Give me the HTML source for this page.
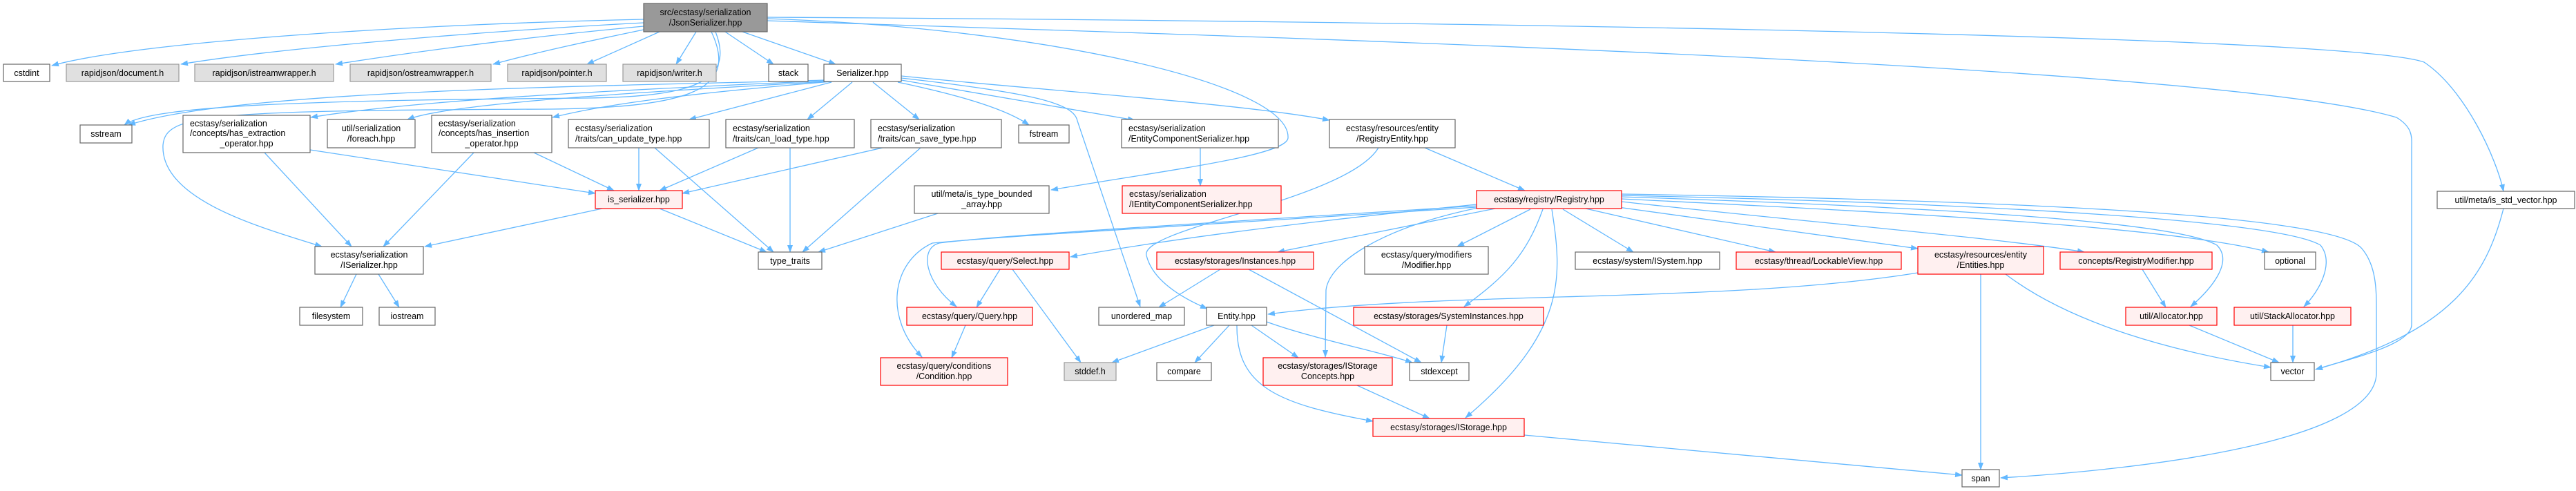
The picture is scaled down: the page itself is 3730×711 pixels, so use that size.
<!DOCTYPE html>
<html><head><meta charset="utf-8"><style>
html,body{margin:0;padding:0;background:#fff;}
svg{display:block;}
text{font-family:"Liberation Sans",sans-serif;font-size:12.5px;fill:#000;}
.e{fill:none;stroke:#63b8ff;stroke-width:1.3;marker-end:url(#a);}
.n{fill:#fff;stroke:#666;stroke-width:1.2;}
.g{fill:#e0e0e0;stroke:#999;stroke-width:1.2;}
.r{fill:#fff0f0;stroke:#ff0000;stroke-width:1.2;}
.h{fill:#999;stroke:#666;stroke-width:1.2;}
</style></head><body>
<svg width="3730" height="711" viewBox="0 0 3730 711" xmlns="http://www.w3.org/2000/svg">
<defs><marker id="a" markerUnits="userSpaceOnUse" markerWidth="11" markerHeight="8" refX="10" refY="4" orient="auto"><path d="M0,0 L11,4 L0,8 z" fill="#63b8ff"/></marker></defs>
<g>
<!-- H edges -->
<path class="e" d="M932,28 C600,35 200,60 75,95"/>
<path class="e" d="M932,33 C700,45 400,70 262,93"/>
<path class="e" d="M932,38 C750,55 600,75 486,93"/>
<path class="e" d="M932,43 C850,60 780,75 714,93"/>
<path class="e" d="M955,46 L850,93"/>
<path class="e" d="M1008,46 L979,93"/>
<path class="e" d="M1050,46 L1120,93"/>
<path class="e" d="M1075,46 L1210,93"/>
<path class="e" d="M1036,46 C1065,120 1000,140 850,142 C500,145 220,150 180,181"/>
<path class="e" d="M1030,46 C1070,130 1000,155 800,158 C300,160 240,165 236,210 C232,290 380,330 466,357"/>
<path class="e" d="M1111,27 C1500,40 1870,120 1865,200 C1862,225 1700,245 1522,275"/>
<path class="e" d="M1111,25 C2000,30 3400,50 3510,90 C3570,130 3615,230 3625,277"/>
<path class="e" d="M1111,30 C1700,50 3200,90 3470,170 C3495,185 3492,200 3492,215 L3492,470 C3492,500 3400,520 3353,535"/>
<!-- Serializer edges -->
<path class="e" d="M1193,116 C900,125 350,128 186,181"/>
<path class="e" d="M1195,117 C900,130 600,145 450,170"/>
<path class="e" d="M1198,118 C900,135 650,150 590,173"/>
<path class="e" d="M1205,118 C1000,135 880,150 800,170"/>
<path class="e" d="M1204,119 L998,173"/>
<path class="e" d="M1234,119 L1169,173"/>
<path class="e" d="M1264,119 L1331,173"/>
<path class="e" d="M1300,119 C1400,140 1460,160 1490,181"/>
<path class="e" d="M1305,116 L1643,174"/>
<path class="e" d="M1305,110 C1500,130 1800,150 1925,174"/>
<path class="e" d="M1305,113 C1500,135 1555,150 1560,175 L1651,444"/>
<!-- second tier -->
<path class="e" d="M449,217 L862,280"/>
<path class="e" d="M383,221 L509,357"/>
<path class="e" d="M773,221 L889,276"/>
<path class="e" d="M686,221 L555,357"/>
<path class="e" d="M925,214 L925,276"/>
<path class="e" d="M948,214 L1120,365"/>
<path class="e" d="M1098,214 L955,276"/>
<path class="e" d="M1144,214 L1144,365"/>
<path class="e" d="M1278,214 L988,280"/>
<path class="e" d="M1333,214 L1162,365"/>
<path class="e" d="M872,302 L615,357"/>
<path class="e" d="M955,302 L1110,365"/>
<path class="e" d="M1358,309 L1185,365"/>
<path class="e" d="M1738,214 L1738,269"/>
<path class="e" d="M2063,214 L2208,276"/>
<path class="e" d="M1996,214 C1950,290 1650,330 1660,370 C1670,410 1720,435 1748,447"/>
<path class="e" d="M516,397 L493,445"/>
<path class="e" d="M548,397 L578,445"/>
<!-- Registry edges -->
<path class="e" d="M2138,296 C1900,320 1700,345 1550,372"/>
<path class="e" d="M2138,298 C1800,320 1450,340 1360,352 C1330,360 1340,410 1385,444"/>
<path class="e" d="M2138,300 C1800,322 1450,342 1350,352 C1290,380 1280,460 1335,517"/>
<path class="e" d="M2165,302 L1850,365"/>
<path class="e" d="M2216,303 L2110,357"/>
<path class="e" d="M2140,301 C2000,330 1925,380 1920,420 L1919,517"/>
<path class="e" d="M2234,303 C2210,370 2180,400 2120,444"/>
<path class="e" d="M2247,303 C2262,400 2270,480 2122,605"/>
<path class="e" d="M2263,303 L2365,365"/>
<path class="e" d="M2296,302 L2571,365"/>
<path class="e" d="M2343,300 L2777,360"/>
<path class="e" d="M2348,292 C2600,320 2900,345 3018,365"/>
<path class="e" d="M2348,288 C2800,310 3150,330 3285,365"/>
<path class="e" d="M2348,285 C2800,300 3150,320 3210,355 C3235,380 3200,420 3172,444"/>
<path class="e" d="M2348,283 C2900,295 3300,320 3360,355 C3380,380 3360,420 3336,444"/>
<path class="e" d="M2348,281 C2900,290 3380,310 3420,360 C3441,385 3441,420 3441,450 L3441,540 C3441,640 3100,680 2897,692"/>
<!-- lower -->
<path class="e" d="M1448,390 L1414,445"/>
<path class="e" d="M1466,390 L1565,525"/>
<path class="e" d="M1398,471 L1378,518"/>
<path class="e" d="M1767,390 L1678,445"/>
<path class="e" d="M1808,390 L2058,525"/>
<path class="e" d="M1758,471 L1610,525"/>
<path class="e" d="M1780,471 L1730,525"/>
<path class="e" d="M1812,471 L1880,518"/>
<path class="e" d="M1834,466 C1900,490 2000,510 2045,525"/>
<path class="e" d="M1791,471 C1790,560 1850,585 1988,610"/>
<path class="e" d="M2095,471 L2087,525"/>
<path class="e" d="M1965,558 L2070,606"/>
<path class="e" d="M2207,630 L2841,688"/>
<path class="e" d="M2777,395 C2500,440 2100,420 1836,455"/>
<path class="e" d="M2868,397 L2868,680"/>
<path class="e" d="M2904,397 C3000,470 3150,510 3288,532"/>
<path class="e" d="M3102,390 L3136,445"/>
<path class="e" d="M3170,471 L3300,525"/>
<path class="e" d="M3320,471 L3320,525"/>
<path class="e" d="M3625,302 C3600,400 3550,480 3353,535"/>
</g>
<g>
<rect class="h" x="932" y="5" width="179" height="41"/><text x="1021.5" y="22" text-anchor="middle">src/ecstasy/serialization</text><text x="1021.5" y="37" text-anchor="middle">/JsonSerializer.hpp</text>

<rect class="n" x="5" y="93" width="67" height="25"/><text x="38.5" y="110" text-anchor="middle">cstdint</text>
<rect class="g" x="96" y="93" width="163" height="25"/><text x="177.5" y="110" text-anchor="middle">rapidjson/document.h</text>
<rect class="g" x="282" y="93" width="201" height="25"/><text x="382.5" y="110" text-anchor="middle">rapidjson/istreamwrapper.h</text>
<rect class="g" x="507" y="93" width="204" height="25"/><text x="609" y="110" text-anchor="middle">rapidjson/ostreamwrapper.h</text>
<rect class="g" x="735" y="93" width="143" height="25"/><text x="806.5" y="110" text-anchor="middle">rapidjson/pointer.h</text>
<rect class="g" x="902" y="93" width="135" height="25"/><text x="969.5" y="110" text-anchor="middle">rapidjson/writer.h</text>
<rect class="n" x="1113" y="93" width="57" height="25"/><text x="1141.5" y="110" text-anchor="middle">stack</text>
<rect class="n" x="1193" y="93" width="112" height="25"/><text x="1249" y="110" text-anchor="middle">Serializer.hpp</text>

<rect class="n" x="116" y="181" width="75" height="26"/><text x="153.5" y="198" text-anchor="middle">sstream</text>
<rect class="n" x="265" y="167" width="184" height="54"/><text x="275" y="183">ecstasy/serialization</text><text x="275" y="197">/concepts/has_extraction</text><text x="357" y="212" text-anchor="middle">_operator.hpp</text>
<rect class="n" x="474" y="173" width="127" height="41"/><text x="537.5" y="190" text-anchor="middle">util/serialization</text><text x="537.5" y="205" text-anchor="middle">/foreach.hpp</text>
<rect class="n" x="625" y="167" width="174" height="54"/><text x="635" y="183">ecstasy/serialization</text><text x="635" y="197">/concepts/has_insertion</text><text x="712" y="212" text-anchor="middle">_operator.hpp</text>
<rect class="n" x="823" y="173" width="204" height="41"/><text x="833" y="190">ecstasy/serialization</text><text x="833" y="205">/traits/can_update_type.hpp</text>
<rect class="n" x="1051" y="173" width="186" height="41"/><text x="1061" y="190">ecstasy/serialization</text><text x="1061" y="205">/traits/can_load_type.hpp</text>
<rect class="n" x="1261" y="173" width="189" height="41"/><text x="1271" y="190">ecstasy/serialization</text><text x="1271" y="205">/traits/can_save_type.hpp</text>
<rect class="n" x="1475" y="181" width="73" height="26"/><text x="1511.5" y="198" text-anchor="middle">fstream</text>
<rect class="n" x="1624" y="173" width="227" height="41"/><text x="1634" y="190">ecstasy/serialization</text><text x="1634" y="205">/EntityComponentSerializer.hpp</text>
<rect class="n" x="1925" y="173" width="182" height="41"/><text x="2016" y="190" text-anchor="middle">ecstasy/resources/entity</text><text x="2016" y="205" text-anchor="middle">/RegistryEntity.hpp</text>

<rect class="r" x="862" y="276" width="126" height="26"/><text x="925" y="293" text-anchor="middle">is_serializer.hpp</text>
<rect class="n" x="1324" y="269" width="195" height="40"/><text x="1421.5" y="285" text-anchor="middle">util/meta/is_type_bounded</text><text x="1421.5" y="300" text-anchor="middle">_array.hpp</text>
<rect class="r" x="1625" y="269" width="230" height="40"/><text x="1635" y="285">ecstasy/serialization</text><text x="1635" y="300">/IEntityComponentSerializer.hpp</text>
<rect class="r" x="2138" y="276" width="210" height="26"/><text x="2243" y="293" text-anchor="middle">ecstasy/registry/Registry.hpp</text>
<rect class="n" x="3529" y="277" width="199" height="25"/><text x="3628.5" y="294" text-anchor="middle">util/meta/is_std_vector.hpp</text>

<rect class="n" x="456" y="357" width="157" height="40"/><text x="534.5" y="373" text-anchor="middle">ecstasy/serialization</text><text x="534.5" y="388" text-anchor="middle">/ISerializer.hpp</text>
<rect class="n" x="1098" y="365" width="92" height="25"/><text x="1144" y="382" text-anchor="middle">type_traits</text>
<rect class="r" x="1363" y="365" width="185" height="25"/><text x="1455.5" y="382" text-anchor="middle">ecstasy/query/Select.hpp</text>
<rect class="r" x="1675" y="365" width="227" height="25"/><text x="1788.5" y="382" text-anchor="middle">ecstasy/storages/Instances.hpp</text>
<rect class="n" x="1976" y="357" width="179" height="40"/><text x="2065.5" y="373" text-anchor="middle">ecstasy/query/modifiers</text><text x="2065.5" y="388" text-anchor="middle">/Modifier.hpp</text>
<rect class="n" x="2281" y="365" width="209" height="25"/><text x="2385.5" y="382" text-anchor="middle">ecstasy/system/ISystem.hpp</text>
<rect class="r" x="2514" y="365" width="239" height="25"/><text x="2633.5" y="382" text-anchor="middle">ecstasy/thread/LockableView.hpp</text>
<rect class="r" x="2777" y="357" width="182" height="40"/><text x="2868" y="373" text-anchor="middle">ecstasy/resources/entity</text><text x="2868" y="388" text-anchor="middle">/Entities.hpp</text>
<rect class="r" x="2983" y="365" width="220" height="25"/><text x="3093" y="382" text-anchor="middle">concepts/RegistryModifier.hpp</text>
<rect class="n" x="3279" y="365" width="74" height="25"/><text x="3316" y="382" text-anchor="middle">optional</text>

<rect class="n" x="434" y="445" width="91" height="26"/><text x="479.5" y="462" text-anchor="middle">filesystem</text>
<rect class="n" x="549" y="445" width="81" height="26"/><text x="589.5" y="462" text-anchor="middle">iostream</text>
<rect class="r" x="1313" y="445" width="182" height="26"/><text x="1404" y="462" text-anchor="middle">ecstasy/query/Query.hpp</text>
<rect class="n" x="1591" y="445" width="124" height="26"/><text x="1653" y="462" text-anchor="middle">unordered_map</text>
<rect class="n" x="1747" y="445" width="87" height="26"/><text x="1790.5" y="462" text-anchor="middle">Entity.hpp</text>
<rect class="r" x="1960" y="445" width="275" height="26"/><text x="2097.5" y="462" text-anchor="middle">ecstasy/storages/SystemInstances.hpp</text>
<rect class="r" x="3078" y="445" width="132" height="26"/><text x="3144" y="462" text-anchor="middle">util/Allocator.hpp</text>
<rect class="r" x="3235" y="445" width="169" height="26"/><text x="3319.5" y="462" text-anchor="middle">util/StackAllocator.hpp</text>

<rect class="r" x="1275" y="518" width="184" height="40"/><text x="1367" y="534" text-anchor="middle">ecstasy/query/conditions</text><text x="1367" y="549" text-anchor="middle">/Condition.hpp</text>
<rect class="g" x="1541" y="525" width="75" height="26"/><text x="1578.5" y="542" text-anchor="middle">stddef.h</text>
<rect class="n" x="1675" y="525" width="79" height="26"/><text x="1714.5" y="542" text-anchor="middle">compare</text>
<rect class="r" x="1829" y="518" width="187" height="40"/><text x="1922.5" y="534" text-anchor="middle">ecstasy/storages/IStorage</text><text x="1922.5" y="549" text-anchor="middle">Concepts.hpp</text>
<rect class="n" x="2041" y="525" width="86" height="26"/><text x="2084" y="542" text-anchor="middle">stdexcept</text>
<rect class="n" x="3288" y="525" width="63" height="26"/><text x="3319.5" y="542" text-anchor="middle">vector</text>

<rect class="r" x="1988" y="606" width="219" height="26"/><text x="2097.5" y="623" text-anchor="middle">ecstasy/storages/IStorage.hpp</text>
<rect class="n" x="2841" y="680" width="54" height="25"/><text x="2868" y="697" text-anchor="middle">span</text>
</g>
</svg>
</body></html>
